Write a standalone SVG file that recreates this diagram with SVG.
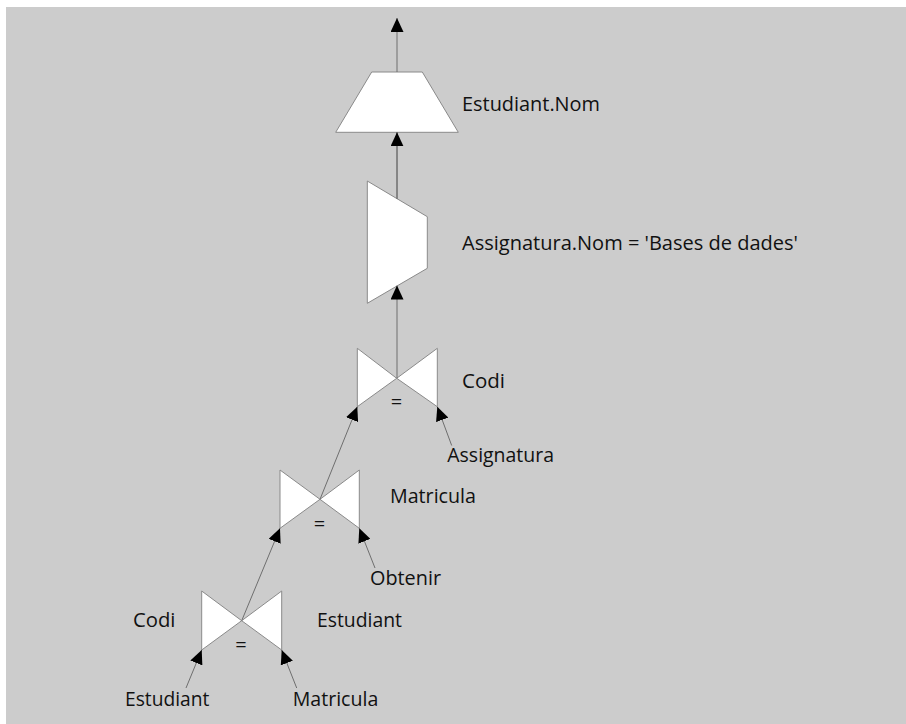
<svg xmlns="http://www.w3.org/2000/svg" width="906" height="724" viewBox="0 0 906 724">
  <style>
    .op { fill: #ffffff; stroke: #8a8a8a; stroke-width: 1; }
    .edge { fill: none; stroke: #6e6e6e; stroke-width: 1; marker-end: url(#arrow); }
    .wire { fill: none; stroke: #6e6e6e; stroke-width: 1; }
    text { font-family: "Open Sans", "Liberation Sans", sans-serif; font-size: 20px; fill: #111111; }
    .eq { text-anchor: middle; }
  </style>
  <defs>
    <marker id="arrow" viewBox="0 0 14 13" refX="14" refY="6.5" markerWidth="14" markerHeight="13" markerUnits="userSpaceOnUse" orient="auto">
      <path d="M0,0 L14,6.5 L0,13 z" fill="#000000"/>
    </marker>
  </defs>

  <!-- canvas -->
  <rect x="0" y="0" width="906" height="724" fill="#ffffff"/>
  <rect x="6" y="7" width="900" height="717" fill="#cccccc"/>

  <!-- projection -->
  <g id="projection">
    <polygon class="op" points="371.7,72 422.3,72 458.3,132.3 335.7,132.3"/>
    <text x="462" y="111" textLength="138" lengthAdjust="spacingAndGlyphs">Estudiant.Nom</text>
  </g>

  <!-- selection -->
  <g id="selection">
    <line class="wire" x1="397" y1="132.3" x2="397" y2="199"/>
    <polygon class="op" points="367.3,181 427.3,216.7 427.3,268.3 367.3,303.3"/>
    <text x="462" y="249.5" textLength="336" lengthAdjust="spacingAndGlyphs">Assignatura.Nom = 'Bases de dades'</text>
  </g>

  <!-- join on Codi -->
  <g id="join-codi">
    <polygon class="op" points="357.3,348.3 396.7,378.3 357.3,406.7"/>
    <polygon class="op" points="437.3,348.3 396.7,378.3 437.3,406.7"/>
    <text class="eq" x="396.5" y="409">=</text>
    <text x="462" y="388" textLength="43" lengthAdjust="spacingAndGlyphs">Codi</text>
  </g>

  <!-- join on Matricula -->
  <g id="join-matricula">
    <polygon class="op" points="280,470 320,499.3 280,528.3"/>
    <polygon class="op" points="359.3,470 320,499.3 359.3,528.3"/>
    <text class="eq" x="319.5" y="530.7">=</text>
    <text x="390" y="503" textLength="86" lengthAdjust="spacingAndGlyphs">Matricula</text>
  </g>

  <!-- join on Codi / Estudiant -->
  <g id="join-estudiant">
    <polygon class="op" points="201.7,591 241.7,620.7 201.7,650"/>
    <polygon class="op" points="281.7,591 241.7,620.7 281.7,650"/>
    <text class="eq" x="241" y="652">=</text>
    <text x="133" y="627.3" textLength="42.5" lengthAdjust="spacingAndGlyphs">Codi</text>
    <text x="317" y="627.3" textLength="85" lengthAdjust="spacingAndGlyphs">Estudiant</text>
  </g>

  <!-- base relations -->
  <g id="rel-assignatura">
    <text x="447.3" y="461.7" textLength="106.7" lengthAdjust="spacingAndGlyphs">Assignatura</text>
  </g>
  <g id="rel-obtenir">
    <text x="370" y="585" textLength="71" lengthAdjust="spacingAndGlyphs">Obtenir</text>
  </g>
  <g id="rel-estudiant">
    <text x="125" y="706" textLength="84.3" lengthAdjust="spacingAndGlyphs">Estudiant</text>
  </g>
  <g id="rel-matricula">
    <text x="292.7" y="706" textLength="85.6" lengthAdjust="spacingAndGlyphs">Matricula</text>
  </g>

  <!-- data flow -->
  <g id="connectors">
    <line class="edge" x1="397" y1="72" x2="397" y2="18"/>
    <line class="edge" x1="397" y1="199" x2="397" y2="132.3"/>
    <line class="edge" x1="397" y1="378.3" x2="397" y2="285.5"/>
    <line class="edge" x1="320" y1="499.3" x2="357.3" y2="406.7"/>
    <line class="edge" x1="451.7" y1="445.5" x2="437.3" y2="406.7"/>
    <line class="edge" x1="241.7" y1="620.7" x2="280" y2="528.3"/>
    <line class="edge" x1="375" y1="568" x2="359.3" y2="528.3"/>
    <line class="edge" x1="186" y1="688" x2="201.7" y2="650"/>
    <line class="edge" x1="296.7" y1="688" x2="281.7" y2="650"/>
  </g>
</svg>
